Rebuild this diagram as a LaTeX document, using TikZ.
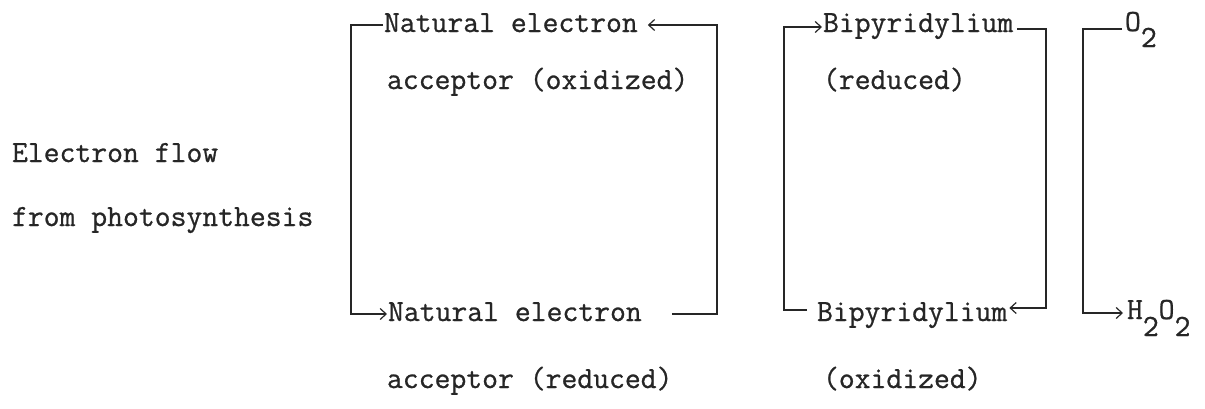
\documentclass[tikz,border=0pt]{standalone}
\usepackage{fontspec}
\newfontfamily\twfont{Latin Modern Mono}[RawFeature={embolden=0.8}]
\usetikzlibrary{arrows.meta}
\begin{document}
\begin{tikzpicture}[x=1pt,y=-1pt,
  lbl/.style={anchor=base west,inner sep=0pt,outer sep=0pt,font=\twfont\fontsize{30.8}{34}\selectfont,text=black!85},
  flow/.style={draw=black!85,line width=1.3pt},
  tip/.style={flow,-{Straight Barb[length=6pt,width=11pt,line width=1.2pt]}}]
\useasboundingbox (0,0) rectangle (1205,408);
% texts
\node[lbl] (ef1) at (12,162) {Electron flow};
\node[lbl] (ef2) at (12,226) {from photosynthesis};
\node[lbl] (na1) at (384,32) {Natural electron};
\node[lbl] (acc1) at (387,89) {acceptor (oxidized)};
\node[lbl] (na2) at (388,321) {Natural electron};
\node[lbl] (acc2) at (387,388) {acceptor (reduced)};
\node[lbl] (bp1) at (823,32) {Bipyridylium};
\node[lbl] (red) at (823,89) {(reduced)};
\node[lbl] (bp2) at (817,321) {Bipyridylium};
\node[lbl] (oxd) at (823,388) {(oxidized)};
\node[lbl] (o2) at (1125,31) {O\raisebox{-16pt}{2}};
\node[lbl] (h2o2) at (1127,319) {H\raisebox{-17pt}{2}O\raisebox{-17pt}{2}};
% corner points
\coordinate (L1t) at (351,25);
\coordinate (L1b) at (351,314);
\coordinate (R1t) at (717,25);
\coordinate (R1b) at (717,314);
\coordinate (L2t) at (784,27);
\coordinate (L2b) at (784,310);
\coordinate (R2t) at (1046,29);
\coordinate (R2b) at (1046,308);
\coordinate (L3t) at (1083,29);
\coordinate (L3b) at (1083,313);
% connectors
\draw[tip] ([xshift=-1pt]na1.west |- L1t) -- (L1t) -- (L1b) -- ([xshift=-1pt]na2.west |- L1b);
\draw[tip] ([xshift=30pt]na2.east |- R1b) -- (R1b) -- (R1t) -- ([xshift=10pt]na1.east |- R1t);
\draw[tip] ([xshift=-10pt]bp2.west |- L2b) -- (L2b) -- (L2t) -- ([xshift=-1pt]bp1.west |- L2t);
\draw[tip] ([xshift=4pt]bp1.east |- R2t) -- (R2t) -- (R2b) -- ([xshift=2pt]bp2.east |- R2b);
\draw[tip] ([xshift=-3pt]o2.west |- L3t) -- (L3t) -- (L3b) -- ([xshift=-4pt]h2o2.west |- L3b);
\end{tikzpicture}
\end{document}
